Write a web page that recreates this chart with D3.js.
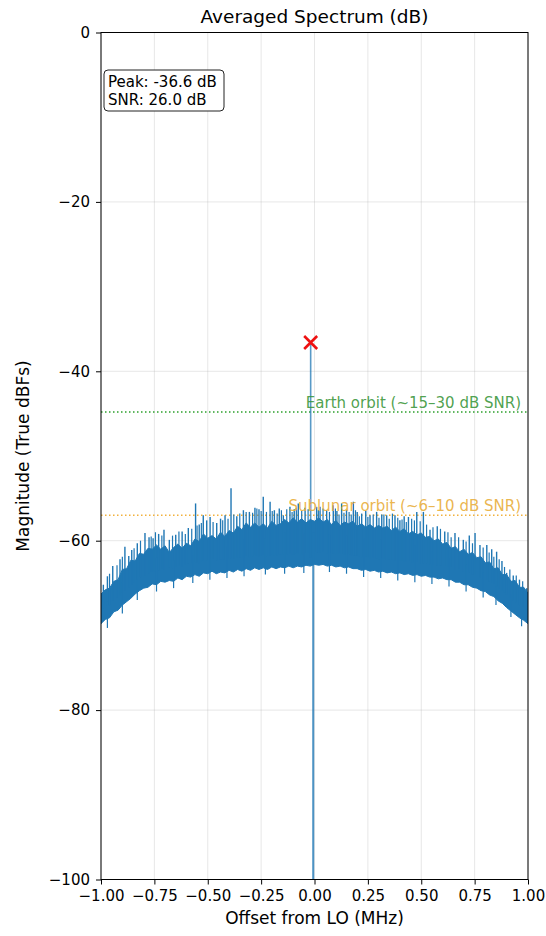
<!DOCTYPE html>
<html lang="en">
<head>
  <meta charset="UTF-8">
  <title>Averaged Spectrum</title>
  <script src="https://cdn.jsdelivr.net/npm/d3@7/dist/d3.min.js"></script>
  <style>
    body { margin: 0; background: #fff; }
    svg { display: block; font-family: "DejaVu Sans", sans-serif; }
    .grid line { stroke: #b0b0b0; stroke-opacity: 0.3; }
    .axis text { font-size: 15px; fill: #000; font-family: "DejaVu Sans", sans-serif; }
    .axis line { stroke: #000; }
  </style>
</head>
<body>
  <svg width="546" height="936"></svg>

  <script>
    // spectrum band (top / bottom of the dense trace) in dB
    const bandFreq = [-1.00, -0.98, -0.96, -0.94, -0.92, -0.90, -0.88, -0.86, -0.84, -0.82,
      -0.80, -0.78, -0.76, -0.74, -0.72, -0.70, -0.68, -0.66, -0.64, -0.62,
      -0.60, -0.58, -0.56, -0.54, -0.52, -0.50, -0.48, -0.46, -0.44, -0.42,
      -0.40, -0.38, -0.36, -0.34, -0.32, -0.30, -0.28, -0.26, -0.24, -0.22,
      -0.20, -0.18, -0.16, -0.14, -0.12, -0.10, -0.08, -0.06, -0.04, -0.02,
      0.00, 0.02, 0.04, 0.06, 0.08, 0.10, 0.12, 0.14, 0.16, 0.18,
      0.20, 0.22, 0.24, 0.26, 0.28, 0.30, 0.32, 0.34, 0.36, 0.38,
      0.40, 0.42, 0.44, 0.46, 0.48, 0.50, 0.52, 0.54, 0.56, 0.58,
      0.60, 0.62, 0.64, 0.66, 0.68, 0.70, 0.72, 0.74, 0.76, 0.78,
      0.80, 0.82, 0.84, 0.86, 0.88, 0.90, 0.92, 0.94, 0.96, 0.98, 1.00]
    const bandTop = [-66.3, -65.8, -65.6, -64.8, -64.6, -63.4, -63.3, -62.3, -62.4, -61.5,
      -61.6, -60.9, -61.0, -60.5, -61.0, -60.6, -61.4, -60.8, -60.4, -60.9,
      -60.3, -60.6, -59.8, -60.1, -59.2, -59.7, -59.4, -59.8, -59.0, -59.5,
      -58.8, -59.1, -58.3, -58.7, -57.9, -58.4, -57.9, -58.4, -58.0, -58.5,
      -57.7, -58.2, -58.0, -57.5, -57.9, -57.3, -57.8, -57.4, -57.9, -57.5,
      -57.7, -57.3, -57.8, -57.5, -58.1, -57.6, -58.2, -57.8, -58.0, -57.7,
      -58.3, -58.0, -58.4, -58.1, -58.5, -58.2, -58.5, -58.3, -58.8, -58.4,
      -58.9, -58.6, -59.2, -58.9, -59.3, -59.1, -59.6, -59.5, -60.0, -59.8,
      -60.4, -60.2, -60.9, -60.7, -61.3, -61.0, -61.6, -61.4, -62.0, -61.9,
      -62.6, -62.5, -63.3, -63.2, -64.0, -64.0, -64.8, -64.7, -65.5, -65.5, -66.2]
    const bandBottom = [-69.8, -69.3, -69.1, -68.4, -68.2, -67.6, -67.2, -66.8, -66.3, -65.9,
      -65.6, -65.5, -65.1, -65.2, -64.8, -64.9, -64.7, -64.8, -64.4, -64.6,
      -64.2, -64.3, -64.0, -64.2, -63.8, -63.9, -63.6, -63.9, -63.7, -63.8,
      -63.5, -63.7, -63.4, -63.6, -63.3, -63.5, -63.2, -63.4, -63.2, -63.4,
      -63.1, -63.3, -63.1, -63.2, -63.0, -63.2, -63.0, -63.1, -62.9, -63.0,
      -62.8, -62.9, -62.8, -63.0, -62.9, -63.1, -63.0, -63.2, -63.1, -63.3,
      -63.3, -63.5, -63.4, -63.6, -63.5, -63.7, -63.6, -63.8, -63.7, -63.9,
      -63.8, -64.0, -63.9, -64.1, -64.0, -64.2, -64.1, -64.3, -64.3, -64.5,
      -64.4, -64.6, -64.6, -64.9, -64.9, -65.2, -65.2, -65.5, -65.6, -65.9,
      -66.0, -66.4, -66.6, -67.1, -67.4, -67.9, -68.3, -68.7, -69.1, -69.4, -69.8]

    // tall spurs above the band
    const spurFreq = [-0.989, -0.970, -0.945, -0.911, -0.888, -0.870, -0.856, -0.830, -0.794, -0.775,
      -0.756, -0.730, -0.705, -0.680, -0.650, -0.620, -0.591, -0.557, -0.540, -0.521,
      -0.505, -0.489, -0.458, -0.440, -0.419, -0.391, -0.364, -0.333, -0.305, -0.279,
      -0.260, -0.240, -0.208, -0.188, -0.165, -0.146, -0.115, -0.095, -0.076, -0.044,
      0.010, 0.026, 0.057, 0.088, 0.105, 0.127, 0.150, 0.182, 0.200, 0.221,
      0.240, 0.260, 0.291, 0.315, 0.338, 0.377, 0.400, 0.420, 0.440, 0.479,
      0.510, 0.541, 0.575, 0.610, 0.658, 0.697, 0.725, 0.752, 0.775, 0.807,
      0.830, 0.853, 0.878, 0.900, 0.931, 0.960, 0.994]
    const spurLevel = [-65.2, -64.2, -63.0, -62.2, -60.7, -61.8, -61.1, -60.3, -59.1, -59.6,
      -59.7, -59.2, -58.7, -59.9, -59.3, -58.9, -58.5, -55.6, -58.1, -57.0,
      -57.6, -57.2, -57.9, -57.4, -57.0, -53.8, -57.1, -56.4, -56.6, -56.1,
      -56.3, -54.8, -55.4, -56.4, -56.2, -57.0, -56.0, -56.3, -55.6, -56.1,
      -56.0, -56.0, -56.4, -55.8, -56.5, -55.6, -56.4, -55.4, -56.6, -56.8,
      -56.5, -57.0, -56.6, -56.9, -57.0, -57.0, -57.6, -57.1, -57.2, -56.6,
      -56.6, -58.7, -58.3, -58.9, -59.1, -59.9, -59.4, -59.1, -60.5, -60.5,
      -61.0, -61.3, -62.4, -63.8, -64.1, -64.6, -65.6]

    // shorter grass on top of the band
    const grassFreq = [-0.960, -0.925, -0.900, -0.845, -0.815, -0.765, -0.745, -0.715, -0.665, -0.635,
      -0.605, -0.575, -0.550, -0.530, -0.475, -0.430, -0.405, -0.378, -0.350, -0.320,
      -0.290, -0.270, -0.250, -0.225, -0.198, -0.175, -0.155, -0.130, -0.105, -0.085,
      -0.060, -0.030, 0.018, 0.040, 0.070, 0.098, 0.115, 0.138, 0.162, 0.172,
      0.192, 0.210, 0.250, 0.275, 0.302, 0.325, 0.350, 0.365, 0.390, 0.410,
      0.430, 0.455, 0.468, 0.495, 0.525, 0.555, 0.590, 0.625, 0.640, 0.675,
      0.710, 0.740, 0.790, 0.818, 0.840, 0.865, 0.890, 0.915, 0.945, 0.975]
    const grassLevel = [-63.9, -62.9, -61.9, -60.9, -60.0, -59.5, -59.0, -59.4, -59.4, -58.9,
      -59.2, -58.6, -58.2, -57.9, -57.8, -57.6, -57.4, -56.9, -56.8, -56.6,
      -56.7, -56.2, -56.5, -56.6, -56.5, -56.8, -56.4, -56.3, -56.6, -56.1,
      -56.5, -56.3, -56.4, -56.2, -56.6, -56.2, -56.9, -56.7, -56.6, -56.9,
      -56.4, -57.1, -57.2, -56.9, -57.3, -56.9, -57.4, -56.8, -57.3, -57.5,
      -57.8, -57.4, -57.6, -57.7, -58.1, -58.4, -58.6, -59.0, -59.6, -59.6,
      -60.1, -60.3, -60.8, -61.4, -61.9, -62.2, -63.1, -63.4, -64.1, -64.8]

    // dips below the band
    const dipFreq = [-0.97, -0.90, -0.83, -0.74, -0.66, -0.57, -0.49, -0.41, -0.33, -0.23,
      -0.14, -0.05, 0.07, 0.15, 0.23, 0.31, 0.39, 0.47, 0.55, 0.63,
      0.71, 0.79, 0.85, 0.92, 0.97]
    const dipLevel = [-70.3, -68.6, -67.0, -66.0, -65.6, -65.0, -64.6, -64.4, -64.2, -64.0,
      -63.9, -63.8, -63.7, -63.9, -64.3, -64.4, -64.7, -64.9, -65.1, -65.4,
      -66.0, -66.7, -67.6, -69.0, -70.1]

    // carrier spike and the DC bin
    const peakFreq = -0.018
    const peakLevel = -36.6
    const dcFreq = -0.006
    const dcLevel = -101

    const snr = 26.0
    const earthLevel = -44.8
    const sublunarLevel = -57.0

    const xTicks = [-1.00, -0.75, -0.50, -0.25, 0.00, 0.25, 0.50, 0.75, 1.00]
    const yTicks = [0, -20, -40, -60, -80, -100]

    const margin = { top: 32.5, right: 18, bottom: 56.5, left: 101 }
    const width = 546 - margin.left - margin.right
    const height = 936 - margin.top - margin.bottom
    const blue = '#1f77b4'

    const svg = d3.select('svg')
    const chart = svg.append('g')
      .attr('transform', `translate(${margin.left}, ${margin.top})`)

    const x = d3.scaleLinear().domain([-1, 1]).range([0, width])
    const y = d3.scaleLinear().domain([-100, 0]).range([height, 0])
    const minus = s => s.replace('-', '\u2212')

    // grid
    chart.append('g').attr('class', 'grid')
      .selectAll('line').data(xTicks).enter().append('line')
      .attr('x1', d => x(d)).attr('x2', d => x(d))
      .attr('y1', 0).attr('y2', height)
    chart.append('g').attr('class', 'grid')
      .selectAll('line').data(yTicks).enter().append('line')
      .attr('x1', 0).attr('x2', width)
      .attr('y1', d => y(d)).attr('y2', d => y(d))

    chart.append('clipPath').attr('id', 'clip')
      .append('rect').attr('width', width).attr('height', height)
    const data = chart.append('g').attr('clip-path', 'url(#clip)')

    // reference levels
    const levels = [
      { v: earthLevel, c: '#2ca02c', t: '#3a963a', label: 'Earth orbit (~15\u201330 dB SNR)' },
      { v: sublunarLevel, c: '#f2b13c', t: '#e8ad3a', label: 'Sublunar orbit (~6\u201310 dB SNR)' }
    ]
    data.selectAll('.level').data(levels).enter().append('line')
      .attr('x1', 0).attr('x2', width)
      .attr('y1', d => y(d.v)).attr('y2', d => y(d.v))
      .attr('stroke', d => d.c)
      .attr('stroke-width', 1.5)
      .attr('stroke-dasharray', '1.5,2.5')

    // spectrum band
    const band = bandFreq.map((f, i) => ({ f, top: bandTop[i], bot: bandBottom[i] }))
    data.append('path')
      .datum(band)
      .attr('fill', blue)
      .attr('stroke', blue)
      .attr('stroke-width', 1)
      .attr('d', d3.area().x(d => x(d.f)).y0(d => y(d.bot)).y1(d => y(d.top)))

    const floorAt = d3.scaleLinear().domain(bandFreq).range(bandBottom)
    const ceilAt = d3.scaleLinear().domain(bandFreq).range(bandTop)

    const spikes = (freqs, levelsDb, from, w) => data.append('g')
      .selectAll('line').data(freqs).enter().append('line')
      .attr('x1', d => x(d)).attr('x2', d => x(d))
      .attr('y1', d => y(from(d)))
      .attr('y2', (d, i) => y(levelsDb[i]))
      .attr('stroke', blue)
      .attr('stroke-width', w)

    spikes(spurFreq, spurLevel, d => floorAt(d) + 1.5, 1.4)
    spikes(grassFreq, grassLevel, d => floorAt(d) + 1.5, 1.2)
    spikes(dipFreq, dipLevel, d => ceilAt(d) - 1.5, 1.2)

    // carrier and DC
    data.append('line')
      .attr('x1', x(peakFreq)).attr('x2', x(peakFreq))
      .attr('y1', y(floorAt(peakFreq) + 1)).attr('y2', y(peakLevel))
      .attr('stroke', blue).attr('stroke-width', 1.6).attr('stroke-opacity', 0.75)
    data.append('line')
      .attr('x1', x(dcFreq)).attr('x2', x(dcFreq))
      .attr('y1', y(-59)).attr('y2', y(dcLevel))
      .attr('stroke', blue).attr('stroke-width', 2).attr('stroke-opacity', 0.8)

    // labels for the levels
    chart.selectAll('.level-label').data(levels).enter().append('text')
      .attr('x', width - 7)
      .attr('y', d => y(d.v) - 4)
      .attr('text-anchor', 'end')
      .attr('font-size', 15)
      .attr('fill', d => d.t)
      .attr('fill-opacity', 0.9)
      .text(d => d.label)

    // peak marker
    const px = x(peakFreq), py = y(peakLevel), r = 6.5
    chart.append('path')
      .attr('d', `M${px - r},${py - r}L${px + r},${py + r}M${px - r},${py + r}L${px + r},${py - r}`)
      .attr('stroke', '#ee1111')
      .attr('stroke-width', 2.6)
      .attr('fill', 'none')

    // axes
    chart.append('g')
      .attr('class', 'axis')
      .attr('transform', `translate(0, ${height})`)
      .call(d3.axisBottom(x).tickValues(xTicks).tickSize(5).tickPadding(6)
        .tickFormat(d => minus(d3.format('.2f')(d))))
    chart.append('g')
      .attr('class', 'axis')
      .call(d3.axisLeft(y).tickValues(yTicks).tickSize(5).tickPadding(6)
        .tickFormat(d => minus(String(d))))
    chart.selectAll('.axis .domain').remove()
    chart.append('rect')
      .attr('width', width).attr('height', height)
      .attr('fill', 'none').attr('stroke', '#000').attr('stroke-width', 1)

    // stats box
    const box = chart.append('g').attr('transform', 'translate(3, 37.5)')
    box.append('rect')
      .attr('width', 120).attr('height', 41).attr('rx', 4)
      .attr('fill', '#fff').attr('stroke', '#222').attr('stroke-width', 1)
    box.append('text').attr('x', 4).attr('y', 17).attr('font-size', 15)
      .text(`Peak: ${peakLevel.toFixed(1)} dB`)
    box.append('text').attr('x', 4).attr('y', 35).attr('font-size', 15)
      .text(`SNR: ${snr.toFixed(1)} dB`)

    // titles
    svg.append('text')
      .attr('x', margin.left + width / 2).attr('y', 23)
      .attr('text-anchor', 'middle').attr('font-size', 18.5)
      .text('Averaged Spectrum (dB)')
    svg.append('text')
      .attr('x', margin.left + width / 2).attr('y', 924)
      .attr('text-anchor', 'middle').attr('font-size', 17)
      .text('Offset from LO (MHz)')
    svg.append('text')
      .attr('transform', `translate(29, ${margin.top + height / 2}) rotate(-90)`)
      .attr('text-anchor', 'middle').attr('font-size', 17)
      .text('Magnitude (True dBFs)')
  </script>
</body>
</html>
